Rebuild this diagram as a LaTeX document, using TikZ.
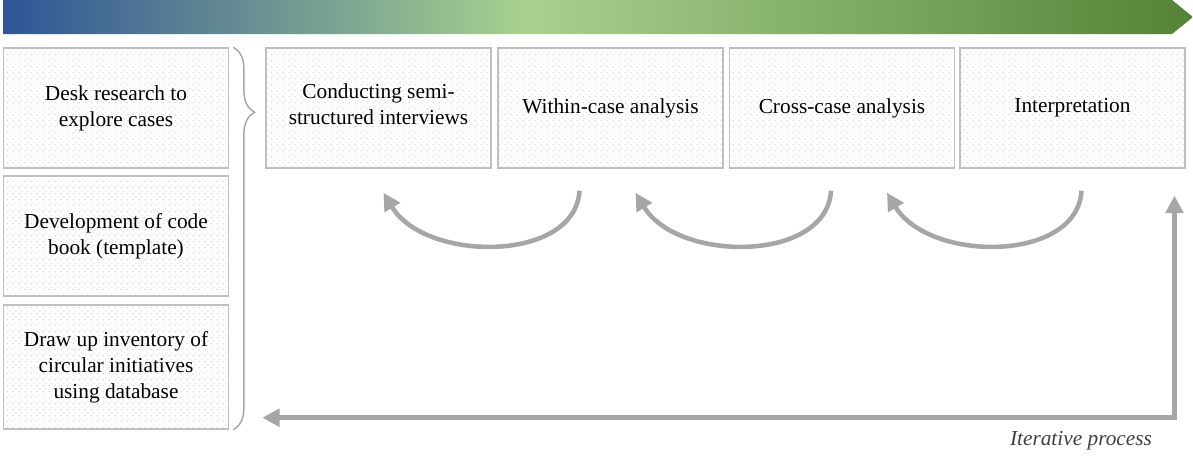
\documentclass[tikz,border=0pt]{standalone}
\usepackage{fontspec}
\setmainfont{Liberation Serif}
\usetikzlibrary{arrows.meta,calc,decorations.pathreplacing,patterns.meta}
\pgfdeclarehorizontalshading{barshade}{100bp}{rgb(0bp)=(0.18,0.33,0.59);rgb(25bp)=(0.18,0.33,0.59);rgb(47bp)=(0.66,0.82,0.56);rgb(75bp)=(0.33,0.51,0.21);rgb(100bp)=(0.33,0.51,0.21)}
\tikzdeclarepattern{name=softdots,type=uncolored,bounding box={(0pt,0pt) and (4.5pt,4.5pt)},tile size={(4.5pt,4.5pt)},
code={\fill (1.1pt,1.1pt) circle [radius=.45pt]; \fill (3.35pt,3.35pt) circle [radius=.45pt];}}
\definecolor{boxline}{RGB}{191,191,191}
\definecolor{loopgray}{RGB}{166,166,166}
\begin{document}
\begin{tikzpicture}[x=.75pt,y=-.75pt,font=\fontsize{16}{19.5}\selectfont,
>={Triangle[width=13pt,length=13pt]},
stage/.style={draw=boxline,line width=1.1pt,pattern=softdots,pattern color=black!22,minimum width=168.75pt,minimum height=90pt,inner sep=0pt,align=center},
backarrow/.style={draw=loopgray,line width=3.4pt,->}]
\useasboundingbox (0,0) rectangle (1193,458);
\shade[shading=barshade] (3,0) -- (1172,0) -- (1193,17) -- (1172,34) -- (3,34) -- cycle;
%%%%
\node[stage] (desk) at (116,108) {Desk research to\\explore cases};
\node[stage] (code) at (116,236) {Development of code\\book (template)};
\node[stage,minimum height=93pt] (inventory) at (116,367) {Draw up inventory of\\circular initiatives\\using database};
\node[stage,text depth=6pt] (interviews) at (378.5,108) {Conducting semi-\\structured interviews};
\node[stage] (within) at (610.5,108) {Within-case analysis};
\node[stage] (cross) at (842,108) {Cross-case analysis};
\node[stage] (interp) at (1072.5,108) {\raisebox{2pt}{Interpretation}};
\draw[draw=loopgray,line width=1.1pt,decorate,decoration={brace,amplitude=16pt,aspect=0.17}]
($(desk.north east)+(4,0)$) -- ($(inventory.south east)+(4,0)$);
%%%%
\foreach \from/\to/\s in {within/interviews/0,cross/within/20,interp/cross/40}
\draw[backarrow] ($(\from.south)+(\s-31,22)$) .. controls +(-4,72) and +(42,70) .. ($(\to.south)+(\s+5,24)$);
\coordinate (back) at ($(interviews.south west)+(-3,249)$);
\draw[backarrow,<->] (back) -| ($(interp.south)+(102,27)$);
\node[font=\fontsize{16}{19.5}\selectfont\itshape,text=black!75] (iter) at (1081,441) {Iterative process};
\end{tikzpicture}
\end{document}
